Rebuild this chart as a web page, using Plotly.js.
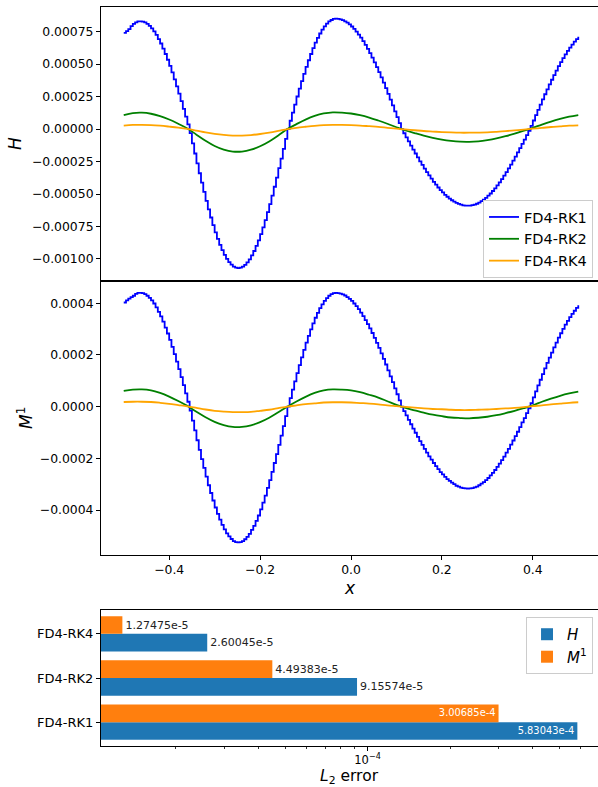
<!DOCTYPE html>
<html>
<head>
<meta charset="utf-8">
<script src="https://cdn.plot.ly/plotly-3.0.1.min.js"></script>
<style>html,body{margin:0;padding:0;overflow:hidden;background:#fff}</style>
</head>
<body>
<div id="chart" style="width:598px;height:787px"></div>
<script>
// ---- data (line-panel values are in units of 1e-6) ----
const UNIT = 1e-6;
const xFine = [
-0.500,-0.495,-0.490,-0.485,-0.480,-0.475,-0.470,-0.465,-0.460,-0.455,-0.450,-0.445,-0.440,-0.435,-0.430,-0.425,-0.420,-0.415,-0.410,-0.405,
-0.400,-0.395,-0.390,-0.385,-0.380,-0.375,-0.370,-0.365,-0.360,-0.355,-0.350,-0.345,-0.340,-0.335,-0.330,-0.325,-0.320,-0.315,-0.310,-0.305,
-0.300,-0.295,-0.290,-0.285,-0.280,-0.275,-0.270,-0.265,-0.260,-0.255,-0.250,-0.245,-0.240,-0.235,-0.230,-0.225,-0.220,-0.215,-0.210,-0.205,
-0.200,-0.195,-0.190,-0.185,-0.180,-0.175,-0.170,-0.165,-0.160,-0.155,-0.150,-0.145,-0.140,-0.135,-0.130,-0.125,-0.120,-0.115,-0.110,-0.105,
-0.100,-0.095,-0.090,-0.085,-0.080,-0.075,-0.070,-0.065,-0.060,-0.055,-0.050,-0.045,-0.040,-0.035,-0.030,-0.025,-0.020,-0.015,-0.010,-0.005,
0.000,0.005,0.010,0.015,0.020,0.025,0.030,0.035,0.040,0.045,0.050,0.055,0.060,0.065,0.070,0.075,0.080,0.085,0.090,0.095,
0.100,0.105,0.110,0.115,0.120,0.125,0.130,0.135,0.140,0.145,0.150,0.155,0.160,0.165,0.170,0.175,0.180,0.185,0.190,0.195,
0.200,0.205,0.210,0.215,0.220,0.225,0.230,0.235,0.240,0.245,0.250,0.255,0.260,0.265,0.270,0.275,0.280,0.285,0.290,0.295,
0.300,0.305,0.310,0.315,0.320,0.325,0.330,0.335,0.340,0.345,0.350,0.355,0.360,0.365,0.370,0.375,0.380,0.385,0.390,0.395,
0.400,0.405,0.410,0.415,0.420,0.425,0.430,0.435,0.440,0.445,0.450,0.455,0.460,0.465,0.470,0.475,0.480,0.485,0.490,0.495,
0.500];
const xCoarse = [-0.50,-0.48,-0.46,-0.44,-0.42,-0.40,-0.38,-0.36,-0.34,-0.32,-0.30,-0.28,-0.26,-0.24,-0.22,-0.20,-0.18,-0.16,-0.14,-0.12,-0.10,-0.08,-0.06,-0.04,-0.02,0.00,0.02,0.04,0.06,0.08,0.10,0.12,0.14,0.16,0.18,0.20,0.22,0.24,0.26,0.28,0.30,0.32,0.34,0.36,0.38,0.40,0.42,0.44,0.46,0.48,0.50];

const H_RK1 = [
740,755,770,792,810,822,830,830,828,821,810,795,776,752,725,693,659,620,578,534,
487,436,383,329,273,215,156,96,36,-31,-110,-188,-264,-340,-413,-484,-553,-619,-681,-740,
-795,-845,-891,-932,-968,-999,-1024,-1044,-1059,-1067,-1070,-1067,-1059,-1045,-1027,-1003,-973,-939,-900,-857,
-809,-757,-701,-640,-578,-513,-444,-374,-301,-228,-152,-76,0,64,127,189,251,311,369,425,
479,530,578,623,665,702,736,766,791,812,829,840,848,850,849,845,839,830,819,806,
790,771,751,728,704,677,648,617,585,550,514,477,438,398,357,315,271,227,183,137,
92,46,0,-32,-64,-95,-127,-158,-188,-218,-248,-276,-304,-331,-357,-382,-406,-428,-450,-470,
-488,-506,-521,-535,-548,-559,-569,-576,-582,-587,-589,-590,-589,-586,-581,-575,-566,-555,-543,-529,
-513,-496,-477,-456,-434,-410,-385,-359,-331,-303,-273,-243,-212,-180,-147,-114,-81,-47,-13,25,
66,107,148,189,228,268,306,344,380,416,450,484,515,546,575,602,627,651,673,693,
711];
const H_RK2 = [108,123,126,118,100,74,41,5,-43,-90,-130,-158,-173,-173,-159,-132,-95,-49,0,38,73,101,120,129,127,120,107,89,66,41,14,-11,-31,-50,-67,-81,-91,-97,-98,-94,-85,-72,-55,-35,-13,10,35,58,78,95,108];
const H_RK4 = [27,32,33,31,26,19,11,1,-12,-26,-37,-45,-50,-50,-46,-38,-27,-14,0,10,18,25,30,32,32,30,27,22,17,10,3,-3,-9,-15,-19,-23,-26,-28,-28,-27,-25,-21,-16,-10,-4,3,9,16,21,26,29];

const M_RK1 = [
403,411,418,424,429,436,440,440,439,435,429,421,411,399,384,367,349,329,306,283,
258,231,203,174,145,114,83,51,19,-15,-54,-92,-130,-167,-203,-237,-271,-304,-334,-363,
-390,-415,-437,-457,-475,-490,-502,-512,-520,-524,-525,-524,-520,-513,-504,-492,-477,-461,-442,-421,
-397,-371,-344,-314,-284,-252,-218,-184,-148,-112,-75,-37,0,33,66,98,130,161,191,220,
248,274,299,322,344,363,381,396,409,420,429,435,439,440,439,437,434,430,424,417,
409,399,389,377,364,350,335,319,303,285,266,247,227,206,185,163,140,117,95,71,
48,24,0,-17,-34,-51,-68,-85,-101,-117,-133,-148,-163,-178,-192,-205,-218,-230,-242,-253,
-262,-272,-280,-287,-294,-300,-306,-309,-313,-315,-316,-317,-316,-315,-312,-309,-304,-298,-292,-284,
-276,-266,-256,-245,-233,-220,-207,-193,-178,-163,-147,-131,-114,-97,-79,-61,-44,-25,-7,14,
36,59,82,104,126,148,169,190,209,229,248,267,284,301,317,332,346,359,371,382,
392];
const M_RK2 = [61,66,67,63,53,39,22,3,-20,-41,-59,-71,-78,-78,-72,-60,-43,-22,0,20,38,53,63,67,66,63,56,46,35,21,7,-5,-14,-23,-31,-37,-42,-44,-45,-43,-39,-33,-25,-16,-6,5,19,31,42,51,58];
const M_RK4 = [18,19,19,18,15,11,6,1,-5,-11,-16,-19,-21,-21,-20,-16,-12,-6,0,5,10,13,16,17,17,16,14,12,9,5,2,-1,-4,-7,-9,-10,-12,-13,-13,-12,-11,-9,-7,-5,-2,2,5,9,12,15,17];

const seriesNames = ['FD4-RK1','FD4-RK2','FD4-RK4'];
const methods = ['FD4-RK1','FD4-RK2','FD4-RK4'];
const errH = [5.83043e-4, 9.15574e-5, 2.60045e-5];
const errM = [3.00685e-4, 4.49383e-5, 1.27475e-5];

const hTicks = [-0.001,-0.00075,-0.0005,-0.00025,0,0.00025,0.0005,0.00075];
const mTicks = [-0.0004,-0.0002,0,0.0002,0.0004];
const xTicks = [-0.4,-0.2,0,0.2,0.4];
const errMajor = [1e-4];
const errMajorText = ['10<sup>\u22124</sup>'];
const errMinor = [2e-5,3e-5,4e-5,5e-5,6e-5,7e-5,8e-5,9e-5,2e-4,3e-4,4e-4,5e-4,6e-4];

// ---- styling ----
const FONT = 'DejaVu Sans, sans-serif';
const C_BLUE = '#0000ff', C_GREEN = '#008000', C_ORANGE = '#ffa500';
const LW = 1.8;
const sc = a => a.map(v => v * UNIT);

const barText = {size:11, family:FONT};
const traces = [
  {x: xFine, y: sc(H_RK1), type:'scatter', mode:'lines', line:{color:C_BLUE, width:LW, shape:'hv'}, name: seriesNames[0], xaxis:'x', yaxis:'y', legend:'legend'},
  {x: xCoarse, y: sc(H_RK2), type:'scatter', mode:'lines', line:{color:C_GREEN, width:LW, shape:'spline', smoothing:1}, name: seriesNames[1], xaxis:'x', yaxis:'y', legend:'legend'},
  {x: xCoarse, y: sc(H_RK4), type:'scatter', mode:'lines', line:{color:C_ORANGE, width:LW, shape:'spline', smoothing:1}, name: seriesNames[2], xaxis:'x', yaxis:'y', legend:'legend'},
  {x: xFine, y: sc(M_RK1), type:'scatter', mode:'lines', line:{color:C_BLUE, width:LW, shape:'hv'}, showlegend:false, xaxis:'x2', yaxis:'y2'},
  {x: xCoarse, y: sc(M_RK2), type:'scatter', mode:'lines', line:{color:C_GREEN, width:LW, shape:'spline', smoothing:1}, showlegend:false, xaxis:'x2', yaxis:'y2'},
  {x: xCoarse, y: sc(M_RK4), type:'scatter', mode:'lines', line:{color:C_ORANGE, width:LW, shape:'spline', smoothing:1}, showlegend:false, xaxis:'x2', yaxis:'y2'},
  {x: errH, y: methods, type:'bar', orientation:'h', name:'<i>H</i>', marker:{color:'#1f77b4'},
   text: errH.map(v => v.toExponential(5)), textposition:['inside','outside','outside'], insidetextanchor:'end', textangle:0,
   textfont:barText, insidetextfont:{color:'white', size:11, family:FONT}, outsidetextfont:{color:'#222', size:11, family:FONT},
   cliponaxis:false, xaxis:'x3', yaxis:'y3', legend:'legend2'},
  {x: errM, y: methods, type:'bar', orientation:'h', name:'<i>M</i><sup>1</sup>', marker:{color:'#ff7f0e'},
   text: errM.map(v => v.toExponential(5)), textposition:['inside','outside','outside'], insidetextanchor:'end', textangle:0,
   textfont:barText, insidetextfont:{color:'white', size:11, family:FONT}, outsidetextfont:{color:'#222', size:11, family:FONT},
   cliponaxis:false, xaxis:'x3', yaxis:'y3', legend:'legend2'}
];

const axisBase = {showline:true, linecolor:'black', linewidth:1, showgrid:false, zeroline:false,
  ticks:'outside', ticklen:4, tickwidth:1, tickcolor:'black', tickfont:{size:12.4, family:FONT, color:'black'}};
const xr = [-0.55, 0.5434];

const layout = {
  width:598, height:787,
  margin:{l:101, r:0, t:7, b:41},
  paper_bgcolor:'white', plot_bgcolor:'white',
  font:{family:FONT, size:12.4, color:'black'},
  barmode:'group', bargap:0.2, bargroupgap:0,
  xaxis: Object.assign({}, axisBase, {anchor:'y', range:xr, mirror:true, ticks:'', showticklabels:false}),
  yaxis: Object.assign({}, axisBase, {anchor:'x', domain:[0.6292,1], range:[-0.00117,0.00094], tickvals:hTicks, tickformat:'.5f'}),
  xaxis2: Object.assign({}, axisBase, {anchor:'y2', range:xr, mirror:true, tickvals:xTicks, tickformat:'.1f'}),
  yaxis2: Object.assign({}, axisBase, {anchor:'x2', domain:[0.2591,0.6292], range:[-0.000572,0.000486], tickvals:mTicks, tickformat:'.4f'}),
  xaxis3: Object.assign({}, axisBase, {anchor:'y3', type:'log', range:[-4.9726,-3.159], mirror:true, ticklen:3.5,
     tickvals:errMajor, ticktext:errMajorText, tickfont:{size:11.5, family:FONT, color:'black'},
     minor:{tickvals:errMinor, ticks:'outside', ticklen:2, tickwidth:0.8, tickcolor:'black', showgrid:false}}),
  yaxis3: Object.assign({}, axisBase, {anchor:'x3', domain:[0,0.184], type:'category', range:[-0.54,2.54], tickfont:{size:13, family:FONT, color:'black'}}),
  legend: {x:0.99, y:0.7388, xanchor:'right', yanchor:'top', bgcolor:'rgba(255,255,255,0.8)', bordercolor:'#cccccc', borderwidth:1,
     font:{size:14.5, family:FONT}, tracegroupgap:0, itemwidth:30},
  legend2: {x:0.99, y:0.1746, xanchor:'right', yanchor:'top', bgcolor:'rgba(255,255,255,0.8)', bordercolor:'#cccccc', borderwidth:1,
     font:{size:15, family:FONT}, tracegroupgap:0, traceorder:'normal'},
  annotations: [
    {text:'<i>H</i>', xref:'paper', yref:'paper', x:-0.173, y:0.8146, xanchor:'center', yanchor:'middle', textangle:-90, showarrow:false, font:{size:17}},
    {text:'<i>M</i><sup>1</sup>', xref:'paper', yref:'paper', x:-0.1529, y:0.4438, xanchor:'center', yanchor:'middle', textangle:-90, showarrow:false, font:{size:17}},
    {text:'<i>x</i>', xref:'paper', yref:'paper', x:0.5, y:0.2138, xanchor:'center', yanchor:'middle', showarrow:false, font:{size:17}},
    {text:'<i>L</i><sub>2</sub> error', xref:'paper', yref:'paper', x:0.5, y:-0.0425, xanchor:'center', yanchor:'middle', showarrow:false, font:{size:15.5}}
  ]
};

Plotly.newPlot('chart', traces, layout, {displayModeBar:false, staticPlot:true});
</script>
</body>
</html>
